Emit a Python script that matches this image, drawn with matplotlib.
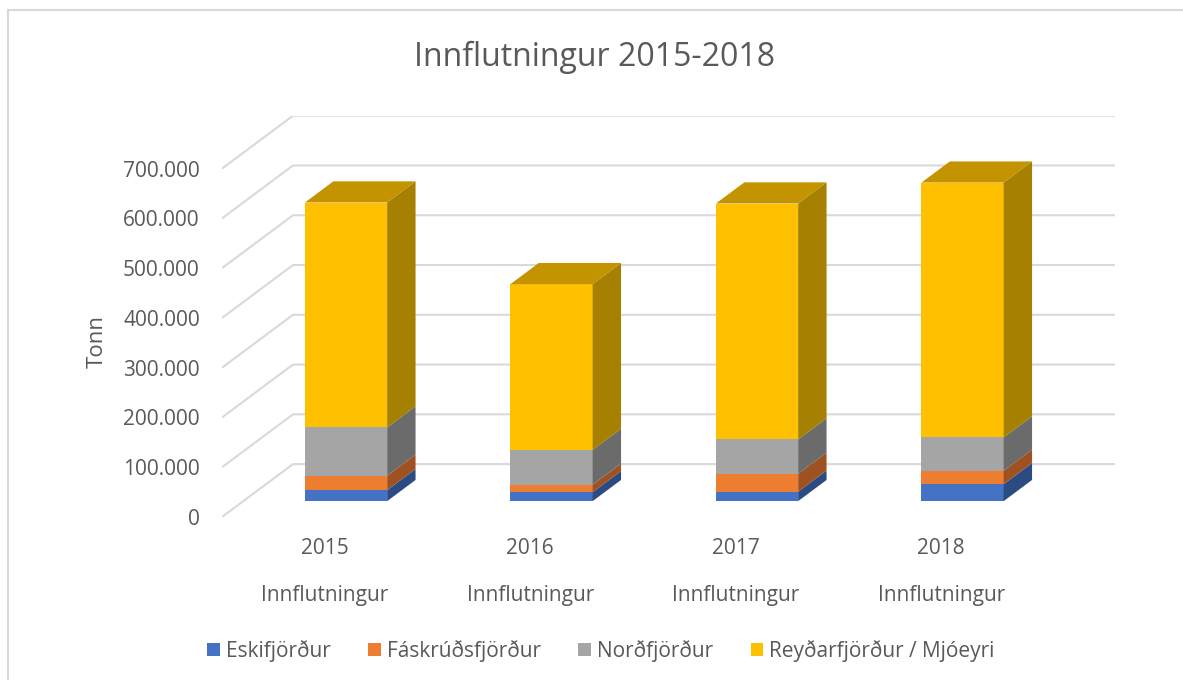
import matplotlib.pyplot as plt
from matplotlib.patches import Polygon, Rectangle
from matplotlib.lines import Line2D

plt.rcParams['font.family'] = ['Open Sans', 'DejaVu Sans']

# data (tonn)
years = ["2015", "2016", "2017", "2018"]
sub_label = "Innflutningur"
ports = ["Eskifjörður", "Fáskrúðsfjörður", "Norðfjörður", "Reyðarfjörður / Mjóeyri"]
eskifjordur = [22000, 18000, 19000, 34000]
faskrudsfjordur = [29000, 15000, 36000, 27000]
nordfjordur = [97000, 70000, 69000, 67000]
reydarfjordur = [452000, 333000, 474000, 512000]
yticks = list(range(0, 700001, 100000))

series = [eskifjordur, faskrudsfjordur, nordfjordur, reydarfjordur]
front_cols = ['#4472C4', '#ED7D31', '#A5A5A5', '#FFC000']
side_cols = ['#2C4B82', '#9E5222', '#6B6B6B', '#A68000']
top_col = '#C39400'
grid_col = '#D9D9D9'
text_col = '#595959'

# oblique "3d" projection: depth 1 shifts by (DX, DY) in data units
DX = 0.3455
DY = 106300
bar_w = 0.4
d0, d1 = 0.3, 0.7

fig = plt.figure(figsize=(11.83, 6.8), dpi=100)
ax = fig.add_axes([222 / 1183, 163 / 680, 893 / 1183, 401.3 / 680])
ax.set_xlim(0, 4 + DX)
ax.set_ylim(0, 700000 + DY)
for s in ax.spines.values():
    s.set_visible(False)
ax.set_xticks([])
ax.set_yticks(yticks)
ax.set_yticklabels([f"{v:,}".replace(",", ".") for v in yticks], color=text_col, fontsize=15)
ax.tick_params(axis='y', length=0, pad=16)

# floor/left wall + back wall gridlines
for v in yticks:
    ax.plot([0, DX, 4 + DX], [v, v + DY, v + DY], color=grid_col, lw=1.5, zorder=1,
            solid_capstyle='butt')

# bars
fx = d0 * DX
fy = d0 * DY
ddx = (d1 - d0) * DX
ddy = (d1 - d0) * DY
for i in range(len(years)):
    left = i + 0.5 - bar_w / 2 + fx
    right = left + bar_w
    base = fy
    for k, vals in enumerate(series):
        h = vals[i]
        ax.bar(left, h, width=bar_w, bottom=base, align='edge', color=front_cols[k],
               edgecolor='none', zorder=3)
        side = [(right, base), (right + ddx, base + ddy), (right + ddx, base + h + ddy), (right, base + h)]
        ax.add_patch(Polygon(side, closed=True, facecolor=side_cols[k], edgecolor='none', zorder=3))
        base += h
    top = [(left, base), (right, base), (right + ddx, base + ddy), (left + ddx, base + ddy)]
    ax.add_patch(Polygon(top, closed=True, facecolor=top_col, edgecolor='none', zorder=3))

# category labels
for i, y in enumerate(years):
    ax.text(i + 0.5, -62500, y, ha='center', va='center', fontsize=15, color=text_col)
    ax.text(i + 0.5, -157000, sub_label, ha='center', va='center', fontsize=15, color=text_col)

fig.text(97 / 1183, 1 - 342 / 680, "Tonn", rotation=90, ha='center', va='center',
         fontsize=16, color=text_col)
fig.text(595 / 1183, 1 - 57 / 680, "Innflutningur 2015-2018", ha='center', va='center',
         fontsize=23, color=text_col)

handles = [Rectangle((0, 0), 1, 1, facecolor=c, edgecolor='none') for c in front_cols]
fig.legend(handles, ports, loc='center', bbox_to_anchor=(601 / 1183, 29 / 680), ncol=4,
           frameon=False, fontsize=15, labelcolor=text_col, handlelength=0.6,
           handleheight=0.6, handletextpad=0.3, columnspacing=1.8)

# chart area border (top and left visible)
fig.add_artist(Line2D([8 / 1183, 1], [1 - 10 / 680, 1 - 10 / 680], color=grid_col, lw=1.5))
fig.add_artist(Line2D([8 / 1183, 8 / 1183], [0, 1 - 10 / 680], color=grid_col, lw=1.5))

fig.savefig("out.png", dpi=100)
